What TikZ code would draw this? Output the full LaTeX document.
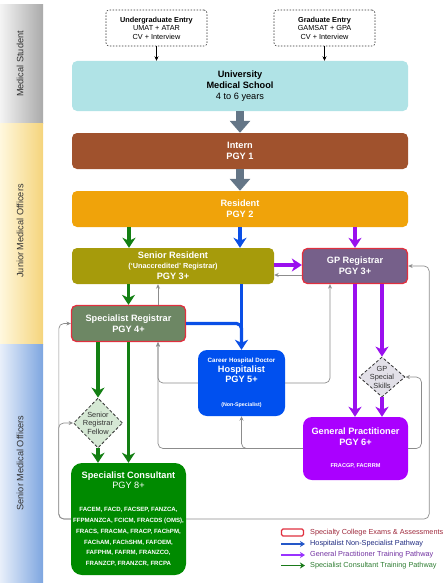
\documentclass[tikz,border=0pt]{standalone}
\usepackage{fontspec}
\setmainfont{Liberation Sans}
\usetikzlibrary{arrows.meta,shapes.geometric}
\definecolor{umsc}{HTML}{B0E3E6}
\definecolor{internc}{HTML}{A0522D}
\definecolor{residc}{HTML}{F0A30A}
\definecolor{senresc}{HTML}{A69B0B}
\definecolor{specregc}{HTML}{6D8764}
\definecolor{gpregc}{HTML}{76608A}
\definecolor{hospc}{HTML}{0050EF}
\definecolor{gpc}{HTML}{AA00FF}
\definecolor{consc}{HTML}{008A00}
\definecolor{redbc}{HTML}{E0303F}
\definecolor{slatec}{HTML}{647687}
\definecolor{greenA}{HTML}{137F13}
\definecolor{blueA}{HTML}{0A4FE6}
\definecolor{purpA}{HTML}{9A10EE}
\definecolor{glc}{HTML}{8C8C8C}
\definecolor{darkt}{HTML}{333333}
\definecolor{msl}{HTML}{F4F4F4}
\definecolor{msr}{HTML}{AAAAAA}
\definecolor{jml}{HTML}{FFF8DE}
\definecolor{jmr}{HTML}{F5D47C}
\definecolor{sml}{HTML}{E8EFFA}
\definecolor{smr}{HTML}{7EA6E0}
\definecolor{srff}{HTML}{D5E8D4}
\definecolor{gpskf}{HTML}{E2E0E8}
\definecolor{legred}{HTML}{9E2A3C}
\definecolor{legblue}{HTML}{1F2A80}
\definecolor{legpurp}{HTML}{7030A0}
\definecolor{leggreen}{HTML}{2E7D32}
\definecolor{legblueA}{HTML}{2457C8}
\definecolor{legpurpA}{HTML}{9933FF}
\definecolor{leggreenA}{HTML}{1A7A1A}
\tikzset{
  pbox/.style={rectangle, rounded corners=5pt, inner sep=0pt, align=center,
    text=white, font=\bfseries\fontsize{9.2}{11}\selectfont},
  redframe/.style={draw=redbc, line width=1.3pt},
  entrybox/.style={rectangle, rounded corners=3pt, draw=darkt, dashed,
    dash pattern=on 1.5pt off 1.5pt, line width=0.6pt, minimum width=101pt,
    minimum height=36pt, inner sep=0pt, align=center, text=black,
    font=\fontsize{7.3}{8.5}\selectfont},
  dia/.style={diamond, draw=darkt, dashed, dash pattern=on 3pt off 2pt,
    line width=0.8pt, inner sep=0pt},
  dlab/.style={align=center, text=darkt, font=\fontsize{7.4}{8.5}\selectfont},
  bart/.style={rotate=90, text=darkt, font=\fontsize{9.2}{11}\selectfont},
  bigarr/.style={draw=slatec, line width=8pt, -{Triangle[length=12pt,width=20pt]}},
  thinarr/.style={draw=black, line width=0.7pt, -{Stealth[length=4.5pt,width=4pt]}},
  carr/.style={draw=#1, line width=3.2pt, -{Stealth[length=10pt,width=13pt,inset=3pt]}},
  cline/.style={draw=#1, line width=3.2pt, rounded corners=5pt},
  gline/.style={draw=glc, line width=0.7pt, rounded corners=5pt,
    -{Stealth[length=4.5pt,width=4pt]}},
  legt/.style={anchor=west, inner sep=0pt, font=\fontsize{7.3}{8}\selectfont},
  legarr/.style={draw=#1, line width=1.1pt, -{Stealth[length=5pt,width=6pt,inset=1.5pt]}},
}
\begin{document}
\begin{tikzpicture}[x=1pt,y=-1pt]
\useasboundingbox (0,0) rectangle (446,586);
% side bars
\shade[left color=msl, right color=msr] (0,5) rectangle (43,123);
\shade[left color=jml, right color=jmr] (0,123) rectangle (43,344);
\shade[left color=sml, right color=smr] (0,344) rectangle (43,582);
\node[bart] (t1) at (20,64) {Medical Student};
\node[bart] (t2) at (20,231) {Junior Medical Officers};
\node[bart] (t3) at (20,463) {Senior Medical Officers};

% entry boxes
\node[entrybox] (ug) at (156.5,28) {\textbf{Undergraduate Entry}\\UMAT + ATAR\\CV + Interview};
\node[entrybox] (gr) at (324.5,28) {\textbf{Graduate Entry}\\GAMSAT + GPA\\CV + Interview};

% main boxes
\node[pbox, fill=umsc, text=black, minimum width=336pt, minimum height=50pt] (ums) at (240,86)
  {University\\Medical School\\\mdseries 4 to 6 years};
\node[pbox, fill=internc, minimum width=336pt, minimum height=36pt] (intern) at (240,151)
  {Intern\\PGY 1};
\node[pbox, fill=residc, minimum width=336pt, minimum height=36pt] (resident) at (240,209)
  {Resident\\PGY 2};
\node[pbox, fill=senresc, minimum width=202pt, minimum height=36pt] (senres) at (173,266)
  {Senior Resident\\[-1pt]{\fontsize{7.3}{8}\selectfont (‘Unaccredited’ Registrar)}\\PGY 3+};
\node[pbox, fill=gpregc, redframe, minimum width=105pt, minimum height=35pt] (gpreg) at (355,266)
  {GP Registrar\\PGY 3+};
\node[pbox, fill=specregc, redframe, minimum width=114pt, minimum height=36pt] (specreg) at (128.5,323.5)
  {Specialist Registrar\\PGY 4+};
\node[pbox, fill=hospc, rounded corners=9pt, minimum width=87pt, minimum height=66pt,
  font=\bfseries\fontsize{9.2}{10}\selectfont] (hosp) at (241.5,383)
  {{\fontsize{6.2}{7}\selectfont Career Hospital Doctor}\\Hospitalist\\PGY 5+\\[14pt]{\fontsize{5.3}{6}\selectfont (Non-Specialist)}};
\node[pbox, fill=gpc, rounded corners=9pt, minimum width=105pt, minimum height=63pt] (gp) at (355.5,448.5)
  {General Practitioner\\PGY 6+\\[11pt]{\fontsize{5.6}{6}\selectfont FRACGP, FACRRM}};
\node[pbox, fill=consc, rounded corners=11pt, minimum width=115pt, minimum height=112pt,
  font=\fontsize{9.2}{10.8}\selectfont] (cons) at (128.5,519)
  {\textbf{Specialist Consultant}\\PGY 8+\\[12pt]
   {\bfseries\fontsize{6.1}{7}\selectfont FACEM, FACD, FACSEP, FANZCA,}\\
   {\bfseries\fontsize{6.1}{7}\selectfont FFPMANZCA, FCICM, FRACDS (OMS),}\\
   {\bfseries\fontsize{6.1}{7}\selectfont FRACS, FRACMA, FRACP, FAChPM,}\\
   {\bfseries\fontsize{6.1}{7}\selectfont FAChAM, FAChSHM, FAFOEM,}\\
   {\bfseries\fontsize{6.1}{7}\selectfont FAFPHM, FAFRM, FRANZCO,}\\
   {\bfseries\fontsize{6.1}{7}\selectfont FRANZCP, FRANZCR, FRCPA}};

% diamonds
\node[dia, fill=srff, minimum width=49pt, minimum height=50pt,
  label={[dlab]center:{Senior\\Registrar\\Fellow}}] (srf) at (98,423) {};
\node[dia, fill=gpskf, minimum width=46pt, minimum height=40pt,
  label={[dlab]center:{GP\\Special\\Skills}}] (gpsk) at (382,377) {};

% entry arrows
\draw[thinarr] (ug.south) -- (ug.south |- ums.north);
\draw[thinarr] (gr.south) -- (gr.south |- ums.north);

% big gray arrows
\draw[bigarr] (ums.south) -- (intern.north);
\draw[bigarr] (intern.south) -- (resident.north);

% gray feedback connectors
\draw[gline] ([xshift=29.5pt]specreg.north) -- ([xshift=-15pt]senres.south);
\draw[gline] (hosp.west) -| ([xshift=29.5pt]specreg.south);
\draw[gline] (gp.west) -| ([xshift=29.5pt]specreg.south);
\draw[gline] (gp.west) -| (hosp.south);
\draw[gline] (hosp.east) -| ([xshift=-25pt]gpreg.south);
\draw[gline] (gp.east) -| ([xshift=16pt]gpsk.east) -- (gpsk.east);
\draw[gline] (cons.west) -| ([xshift=-12pt]specreg.west) -- (specreg.west);
\draw[gline] (cons.west) -| ([xshift=-14.5pt]srf.west) -- (srf.west);
\draw[gline] (cons.east) -| ([xshift=21pt]gpreg.east) -- (gpreg.east);
\draw[gline] ([yshift=-9pt]gpreg.west) -- ([yshift=-9pt]senres.east);

% green pathway
\draw[carr=greenA] ([xshift=-44pt]senres.north |- resident.south) -- ([xshift=-44pt]senres.north);
\draw[carr=greenA] (specreg.north |- senres.south) -- (specreg.north);
\draw[carr=greenA] (srf.north |- specreg.south) -- (srf.north);
\draw[carr=greenA] (specreg.south) -- (specreg.south |- cons.north);
\draw[carr=greenA] (srf.south) -- (srf.south |- cons.north);

% blue pathway
\draw[carr=blueA] (resident.south) -- (resident.south |- senres.north);
\draw[cline=blueA] (specreg.east) -| ([yshift=8pt]hosp.north);
\draw[carr=blueA] (hosp.north |- senres.south) -- (hosp.north);

% purple pathway
\draw[carr=purpA] (gpreg.north |- resident.south) -- (gpreg.north);
\draw[carr=purpA] ([yshift=1pt]senres.east) -- ([yshift=1pt]gpreg.west);
\draw[carr=purpA] (gpreg.south) -- (gpreg.south |- gp.north);
\draw[carr=purpA] (gpsk.north |- gpreg.south) -- (gpsk.north);
\draw[carr=purpA] (gpsk.south) -- (gpsk.south |- gp.north);

% legend
\node[draw=redbc, line width=1.3pt, fill=white, rounded corners=1.5pt,
  minimum width=22pt, minimum height=7pt, inner sep=0pt] (lk1) at (292.5,532.5) {};
\node[legt, text=legred] (lt1) at (310,532.5) {Specialty College Exams \& Assessments};
\coordinate (la2) at (281,544);
\node[legt, text=legblue] (lt2) at (310,544) {Hospitalist Non-Specialist Pathway};
\draw[legarr=legblueA] (la2) -- ([xshift=-5pt]lt2.west);
\coordinate (la3) at (281,555);
\node[legt, text=legpurp] (lt3) at (310,555) {General Practitioner Training Pathway};
\draw[legarr=legpurpA] (la3) -- ([xshift=-5pt]lt3.west);
\coordinate (la4) at (281,565.5);
\node[legt, text=leggreen] (lt4) at (310,565.5) {Specialist Consultant Training Pathway};
\draw[legarr=leggreenA] (la4) -- ([xshift=-5pt]lt4.west);
\end{tikzpicture}
\end{document}
